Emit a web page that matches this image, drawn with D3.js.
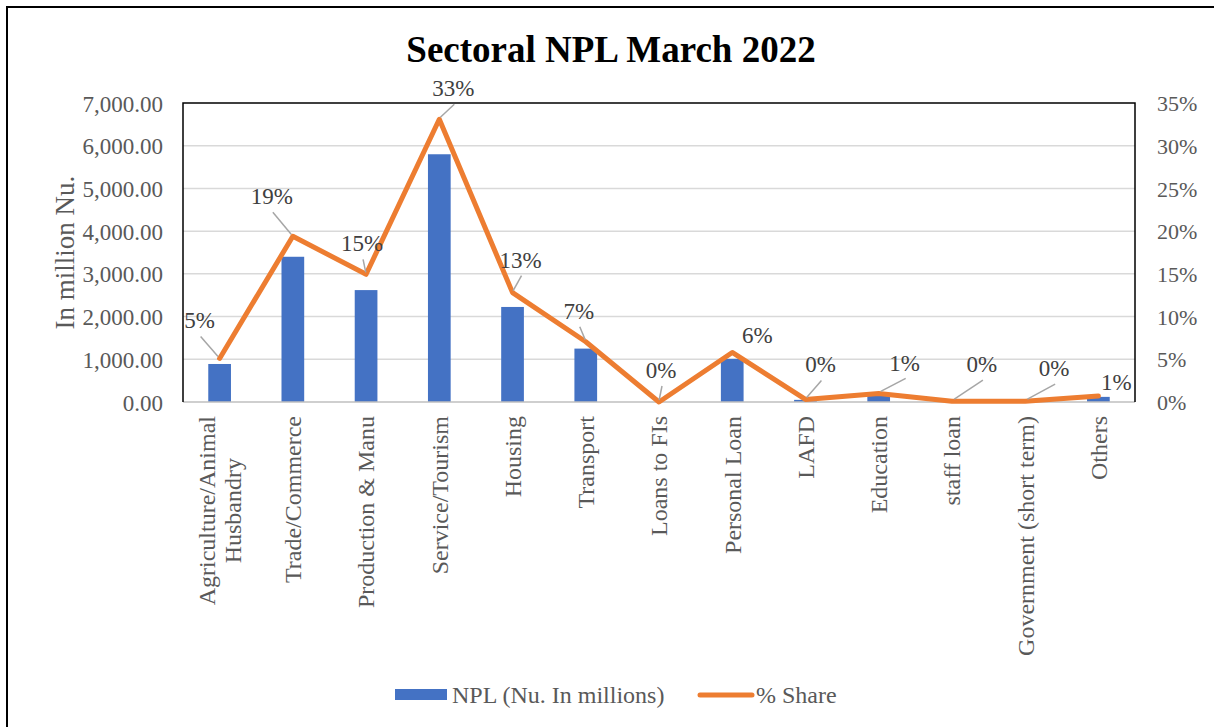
<!DOCTYPE html>
<html lang="en">
<head>
    <meta charset="UTF-8">
    <title>Sectoral NPL March 2022</title>
    <script src="https://d3js.org/d3.v7.min.js"></script>
    <style>
        body { margin: 0; background: #fff; }
        svg { font-family: "Liberation Serif", "Times New Roman", serif; }
        .tick-label { fill: #595959; font-size: 23px; font-family: "Liberation Serif", serif; }
        .tick-r { fill: #595959; font-size: 22px; font-family: "Liberation Serif", serif; }
        .cat-label { fill: #595959; font-size: 24px; }
        .data-label { fill: #404040; font-size: 23px; font-family: "Liberation Serif", serif; }
        .legend-text { fill: #595959; font-size: 24px; }
    </style>
</head>
<body>
    <div id="chart"></div>

    <script>
        // chart data
        const sectors = ["Agriculture/Animal Husbandry", "Trade/Commerce", "Production & Manu", "Service/Tourism",
            "Housing", "Transport", "Loans to FIs", "Personal Loan", "LAFD", "Education", "staff loan",
            "Government (short term)", "Others"];
        const npl = [890, 3400, 2620, 5800, 2225, 1250, 0, 1010, 50, 170, 15, 10, 120];
        const share = [5.1, 19.4, 14.95, 33.1, 12.8, 7.05, 0, 5.8, 0.3, 1.0, 0.1, 0.1, 0.7];
        const leftTicks = [0, 1000, 2000, 3000, 4000, 5000, 6000, 7000];
        const rightTicks = [0, 5, 10, 15, 20, 25, 30, 35];

        // label placement (offset from the line point), leader drawn when far away
        const labelDx = [-20, -21, -4, 14, 8, -7, 2, 25, 15, 26, 30, 29, 18];
        const labelDy = [-38, -40, -31, -31, -33, -31, -32, -18, -35, -31, -37, -33, -14];

        const W = 1214, H = 727;
        const pLeft = 183, pRight = 1135, pTop = 103, pBottom = 402;

        const svg = d3.select("#chart").append("svg")
            .attr("width", W).attr("height", H);

        // outer frame
        svg.append("rect")
            .attr("x", 7).attr("y", 7)
            .attr("width", 1230).attr("height", 740)
            .attr("fill", "none").attr("stroke", "#000").attr("stroke-width", 2);

        const x = d3.scaleBand().domain(sectors).range([pLeft, pRight]).paddingInner(0).paddingOuter(0);
        const yL = d3.scaleLinear().domain([0, 7000]).range([pBottom, pTop]);
        const yR = d3.scaleLinear().domain([0, 35]).range([pBottom, pTop]);

        // title
        svg.append("text")
            .attr("x", 611).attr("y", 62)
            .attr("text-anchor", "middle")
            .style("font-size", "37px").style("font-weight", "bold")
            .attr("fill", "#000")
            .text("Sectoral NPL March 2022");

        // gridlines
        svg.append("g")
            .selectAll("line")
            .data(leftTicks.slice(1, -1))
            .enter().append("line")
            .attr("x1", pLeft).attr("x2", pRight)
            .attr("y1", d => yL(d)).attr("y2", d => yL(d))
            .attr("stroke", "#d9d9d9").attr("stroke-width", 1.5);

        // left axis labels
        const fmtL = d3.format(",.2f");
        const axL = svg.append("g")
            .attr("transform", `translate(${pLeft - 20},0)`)
            .call(d3.axisLeft(yL).tickValues(leftTicks).tickFormat(fmtL).tickSize(0).tickPadding(0));
        axL.select(".domain").remove();
        axL.attr("font-size", null).attr("font-family", null);
        axL.selectAll("text").attr("class", "tick-label").attr("fill", null).attr("dy", "0.35em");

        // right axis labels
        const axR = svg.append("g")
            .attr("transform", `translate(${pRight + 22},0)`)
            .call(d3.axisRight(yR).tickValues(rightTicks).tickFormat(d => d + "%").tickSize(0).tickPadding(0));
        axR.select(".domain").remove();
        axR.attr("font-size", null).attr("font-family", null);
        axR.selectAll("text").attr("class", "tick-r").attr("fill", null).attr("dy", "0.35em");

        // axis title
        svg.append("text")
            .attr("class", "tick-label")
            .attr("transform", `translate(74, ${(pTop + pBottom) / 2}) rotate(-90)`)
            .attr("text-anchor", "middle")
            .style("font-size", "27px")
            .text("In million Nu.");

        // bars
        const barW = x.bandwidth() * 0.31;
        svg.append("g")
            .selectAll("rect")
            .data(npl)
            .enter().append("rect")
            .attr("x", (d, i) => x(sectors[i]) + x.bandwidth() / 2 - barW / 2)
            .attr("y", d => yL(d))
            .attr("width", barW)
            .attr("height", d => pBottom - yL(d))
            .attr("fill", "#4472c4");

        // plot frame
        svg.append("line")
            .attr("x1", pLeft).attr("x2", pRight).attr("y1", pBottom).attr("y2", pBottom)
            .attr("stroke", "#bfbfbf").attr("stroke-width", 1.5);
        svg.append("path")
            .attr("d", `M${pLeft},${pBottom}V${pTop}H${pRight}V${pBottom}`)
            .attr("fill", "none").attr("stroke", "#000").attr("stroke-width", 1.5);

        // share line
        const cx = (d, i) => x(sectors[i]) + x.bandwidth() / 2;
        const line = d3.line().x(cx).y(d => yR(d));
        svg.append("path")
            .datum(share)
            .attr("d", line)
            .attr("fill", "none")
            .attr("stroke", "#ed7d31")
            .attr("stroke-width", 5)
            .attr("stroke-linejoin", "round")
            .attr("stroke-linecap", "round");

        // data labels + leader lines
        const fmtP = d3.format(".0%");
        const labels = svg.append("g");
        share.forEach((d, i) => {
            const px = cx(d, i), py = yR(d);
            const lx = px + labelDx[i], ly = py + labelDy[i];
            if (labelDy[i] < -25) {
                labels.append("line")
                    .attr("x1", lx + 1).attr("y1", ly + 16)
                    .attr("x2", px + (lx - px) * 0.08).attr("y2", py - 2)
                    .attr("stroke", "#a6a6a6").attr("stroke-width", 1.5);
            }
            labels.append("text")
                .attr("class", "data-label")
                .attr("x", lx).attr("y", ly)
                .attr("dy", "0.35em")
                .attr("text-anchor", "middle")
                .text(fmtP(d / 100));
        });

        // category labels, rotated
        const catG = svg.append("g");
        sectors.forEach((s, i) => {
            const lines = s === "Agriculture/Animal Husbandry" ? ["Agriculture/Animal", "Husbandry"] : [s];
            const g = catG.append("g")
                .attr("transform", `translate(${x(s) + x.bandwidth() / 2}, 416) rotate(-90)`);
            const t = g.append("text").attr("class", "cat-label").attr("text-anchor", "middle");
            const lh = 26.5;
            lines.forEach((l, j) => {
                t.append("tspan")
                    .attr("x", 0)
                    .attr("y", (j - (lines.length - 1) / 2) * lh)
                    .attr("dy", "0.35em")
                    .text(l);
            });
            let maxW = 0;
            t.selectAll("tspan").each(function () { maxW = Math.max(maxW, this.getComputedTextLength()); });
            t.selectAll("tspan").attr("x", -maxW / 2);
        });

        // legend
        const leg = svg.append("g");
        leg.append("rect")
            .attr("x", 395).attr("y", 689).attr("width", 52).attr("height", 11)
            .attr("fill", "#4472c4");
        leg.append("text").attr("class", "legend-text")
            .attr("x", 452).attr("y", 695).attr("dy", "0.35em")
            .text("NPL (Nu. In millions)");
        leg.append("line")
            .attr("x1", 700).attr("x2", 752).attr("y1", 695).attr("y2", 695)
            .attr("stroke", "#ed7d31").attr("stroke-width", 5).attr("stroke-linecap", "round");
        leg.append("text").attr("class", "legend-text")
            .attr("x", 756).attr("y", 695).attr("dy", "0.35em")
            .text("% Share");
    </script>
</body>
</html>
